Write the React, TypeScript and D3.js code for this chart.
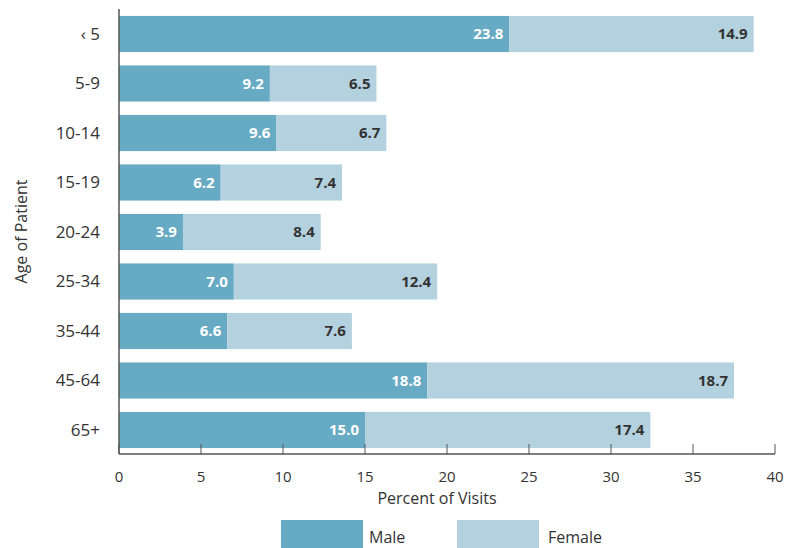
import React from "react";
import * as d3 from "d3";

const categories = ["‹ 5", "5-9", "10-14", "15-19", "20-24", "25-34", "35-44", "45-64", "65+"];
const maleValues = [23.8, 9.2, 9.6, 6.2, 3.9, 7.0, 6.6, 18.8, 15.0];
const femaleValues = [14.9, 6.5, 6.7, 7.4, 8.4, 12.4, 7.6, 18.7, 17.4];
const xTicks = [0, 5, 10, 15, 20, 25, 30, 35, 40];
const seriesNames = ["Male", "Female"];

const W = 786;
const H = 548;
const FONT = "'Liberation Sans Narrow', 'Open Sans', 'Noto Sans', sans-serif";
const MALE = "#67aac4";
const FEMALE = "#b3d1de";
const AXIS = "#555";
const TEXT = "#333";

export default function App() {
  const x = d3.scaleLinear().domain([0, 40]).range([119, 775]);
  const y = d3
    .scaleBand<string>()
    .domain(categories)
    .range([9.25, 454.75])
    .paddingInner(0.27)
    .paddingOuter(0.135);
  const bw = y.bandwidth();
  const axisY = 454;

  return (
    <svg width={W} height={H} style={{ position: "absolute", left: 0, top: 0 }} fontFamily={FONT}>
      {categories.map((c, i) => {
        const y0 = y(c)!;
        const m = maleValues[i];
        const f = femaleValues[i];
        return (
          <g key={c}>
            <rect x={x(0)} y={y0} width={x(m) - x(0)} height={bw} fill={MALE} />
            <rect x={x(m)} y={y0} width={x(m + f) - x(m)} height={bw} fill={FEMALE} />
            <text x={x(m) - 6} y={y0 + bw / 2} dy="0.35em" textAnchor="end" fill="#fff" fontWeight="bold" fontSize={15}>
              {m.toFixed(1)}
            </text>
            <text x={x(m + f) - 6} y={y0 + bw / 2} dy="0.35em" textAnchor="end" fill={TEXT} fontWeight="bold" fontSize={15}>
              {f.toFixed(1)}
            </text>
            <text x={100} y={y0 + bw / 2} dy="0.35em" textAnchor="end" fill={TEXT} fontSize={17}>
              {c}
            </text>
          </g>
        );
      })}
      <line x1={x(0)} x2={x(0)} y1={9} y2={axisY} stroke={AXIS} strokeWidth={1.5} />
      <line x1={x(0)} x2={x(40)} y1={axisY} y2={axisY} stroke={AXIS} strokeWidth={1.5} />
      {xTicks.map((t) => (
        <g key={t}>
          <line x1={x(t)} x2={x(t)} y1={axisY - 10} y2={axisY} stroke={AXIS} strokeWidth={1} />
          <text x={x(t)} y={477} dy="0.35em" textAnchor="middle" fill={TEXT} fontSize={15}>
            {t}
          </text>
        </g>
      ))}
      <text x={437} y={498} dy="0.35em" textAnchor="middle" fill={TEXT} fontSize={16}>
        Percent of Visits
      </text>
      <text
        transform={`translate(21, ${(9 + axisY) / 2}) rotate(-90)`}
        dy="0.35em"
        textAnchor="middle"
        fill={TEXT}
        fontSize={16}
      >
        Age of Patient
      </text>
      {seriesNames.map((s, i) => (
        <g key={s} transform={`translate(${281 + i * 176}, 520)`}>
          <rect x={0} y={0} width={82} height={28} fill={i === 0 ? MALE : FEMALE} />
          <text x={88 + i * 3} y={17} dy="0.35em" fill={TEXT} fontSize={16}>
            {s}
          </text>
        </g>
      ))}
    </svg>
  );
}
